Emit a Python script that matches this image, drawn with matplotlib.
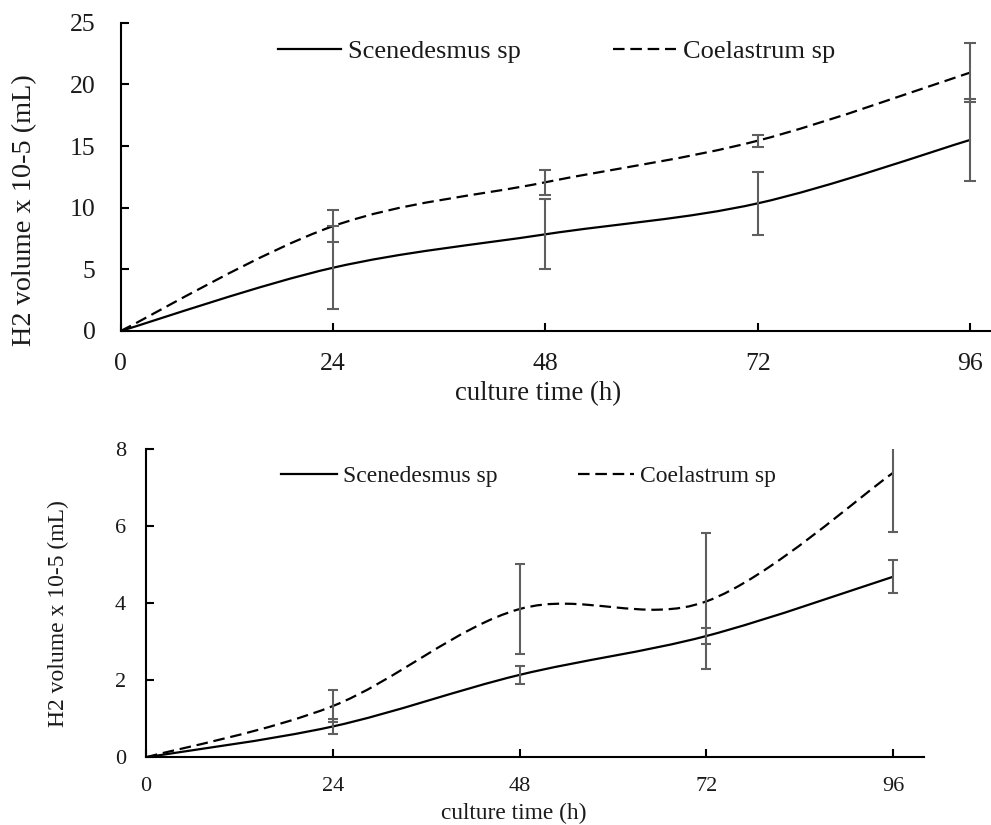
import numpy as np
import matplotlib
matplotlib.use("Agg")
import matplotlib.pyplot as plt
from matplotlib.path import Path
from matplotlib.patches import PathPatch
from matplotlib.lines import Line2D

plt.rcParams['font.family'] = ['Liberation Serif', 'DejaVu Serif']

# ---- data ----
hours = [0, 24, 48, 72, 96]
series_names = ["Scenedesmus sp", "Coelastrum sp"]

top_scen = [0, 5.13, 7.84, 10.35, 15.49]
top_scen_err = [0, 3.37, 2.84, 2.57, 3.33]
top_coel = [0, 8.5, 12.06, 15.43, 20.95]
top_coel_err = [0, 1.3, 1.0, 0.5, 2.38]

bot_scen = [0, 0.80, 2.14, 3.15, 4.69]
bot_scen_err = [0, 0.19, 0.24, 0.21, 0.43]
bot_coel = [0, 1.33, 3.85, 4.05, 7.39]
bot_coel_err = [0, 0.42, 1.17, 1.77, 1.53]

x_ticks = [0, 24, 48, 72, 96]
top_yticks = [0, 5, 10, 15, 20, 25]
bot_yticks = [0, 2, 4, 6, 8]

xlabel = "culture time (h)"
ylabel = "H2 volume x 10-5 (mL)"

TEXT = '#1a1a1a'
ERRC = '#5f5f5f'
DASH = (0, (5.2, 2.6))


def smooth_path(xs, ys):
    """Excel-style smoothed line as cubic Bezier segments (Catmull-Rom control points)."""
    pts = np.column_stack([xs, ys]).astype(float)
    n = len(pts)
    verts = [pts[0]]
    codes = [Path.MOVETO]
    for i in range(n - 1):
        p0 = pts[i - 1] if i > 0 else pts[i]
        p1 = pts[i]
        p2 = pts[i + 1]
        p3 = pts[i + 2] if i + 2 < n else pts[i + 1]
        c1 = p1 + (p2 - p0) / 6.0
        c2 = p2 - (p3 - p1) / 6.0
        verts += [c1, c2, p2]
        codes += [Path.CURVE4] * 3
    return Path(verts, codes)


def draw_panel(ax, scen, scen_err, coel, coel_err, ylim, yticks, xmax, fs,
               lab_fs, xlab_fs, ylab_fs, capsize, tickpad_x, tickpad_y,
               leg_anchor, leg_hl, leg_cs, leg_tp, xlab_pos, ylab_pos):
    ax.add_patch(PathPatch(smooth_path(hours, scen), fill=False, edgecolor='black',
                           lw=1.6, zorder=3, capstyle='butt'))
    ax.add_patch(PathPatch(smooth_path(hours, coel), fill=False, edgecolor='black',
                           lw=1.6, linestyle=DASH, zorder=3, capstyle='butt'))
    ax.errorbar(hours[1:], scen[1:], yerr=scen_err[1:], fmt='none', ecolor=ERRC,
                elinewidth=1.5, capsize=capsize, capthick=1.5, zorder=4)
    ax.errorbar(hours[1:], coel[1:], yerr=coel_err[1:], fmt='none', ecolor=ERRC,
                elinewidth=1.5, capsize=capsize, capthick=1.5, zorder=4)

    ax.set_xlim(0, xmax)
    ax.set_ylim(*ylim)
    ax.set_xticks(x_ticks)
    ax.set_yticks(yticks)
    for s in ['top', 'right']:
        ax.spines[s].set_visible(False)
    for s in ['left', 'bottom']:
        ax.spines[s].set_linewidth(1.5)
        ax.spines[s].set_color('black')
    ax.tick_params(axis='both', direction='in', length=5.5, width=1.5,
                   labelsize=fs, labelcolor=TEXT)
    ax.tick_params(axis='x', pad=tickpad_x)
    ax.tick_params(axis='y', pad=tickpad_y)

    ax.set_xlabel(xlabel, fontsize=xlab_fs, color=TEXT, va='center', ha='center')
    ax.xaxis.set_label_coords(*xlab_pos)
    ax.set_ylabel(ylabel, fontsize=ylab_fs, color=TEXT, va='center', ha='center')
    ax.yaxis.set_label_coords(*ylab_pos)

    handles = [Line2D([], [], color='black', lw=1.6),
               Line2D([], [], color='black', lw=1.6, linestyle=DASH)]
    ax.legend(handles, series_names, loc='center left', bbox_to_anchor=leg_anchor,
              ncol=2, frameon=False, fontsize=lab_fs, handlelength=leg_hl,
              handletextpad=leg_tp, columnspacing=leg_cs, borderaxespad=0,
              borderpad=0, labelcolor=TEXT)


fig = plt.figure(figsize=(9.91, 8.25), dpi=100)

ax1 = fig.add_axes([0.1218, 0.5988, 0.8772, 0.3737])
draw_panel(ax1, top_scen, top_scen_err, top_coel, top_coel_err,
           ylim=(0, 25), yticks=top_yticks, xmax=98.26, fs=18.5,
           lab_fs=19, xlab_fs=19.3, ylab_fs=20.3,
           capsize=4.3, tickpad_x=16, tickpad_y=18,
           leg_anchor=(0.181, 0.908), leg_hl=2.39, leg_cs=3.48, leg_tp=0.27,
           xlab_pos=(0.48, -0.204), ylab_pos=(-0.111, 0.392))

ax2 = fig.add_axes([0.1473, 0.0821, 0.7854, 0.3733])
draw_panel(ax2, bot_scen, bot_scen_err, bot_coel, bot_coel_err,
           ylim=(0, 8), yticks=bot_yticks, xmax=100, fs=16,
           lab_fs=17, xlab_fs=16.8, ylab_fs=17,
           capsize=3.6, tickpad_x=14.5, tickpad_y=14.5,
           leg_anchor=(0.174, 0.913), leg_hl=2.37, leg_cs=3.39, leg_tp=0.25,
           xlab_pos=(0.473, -0.181), ylab_pos=(-0.112, 0.467))

fig.savefig("out.png", dpi=100)
